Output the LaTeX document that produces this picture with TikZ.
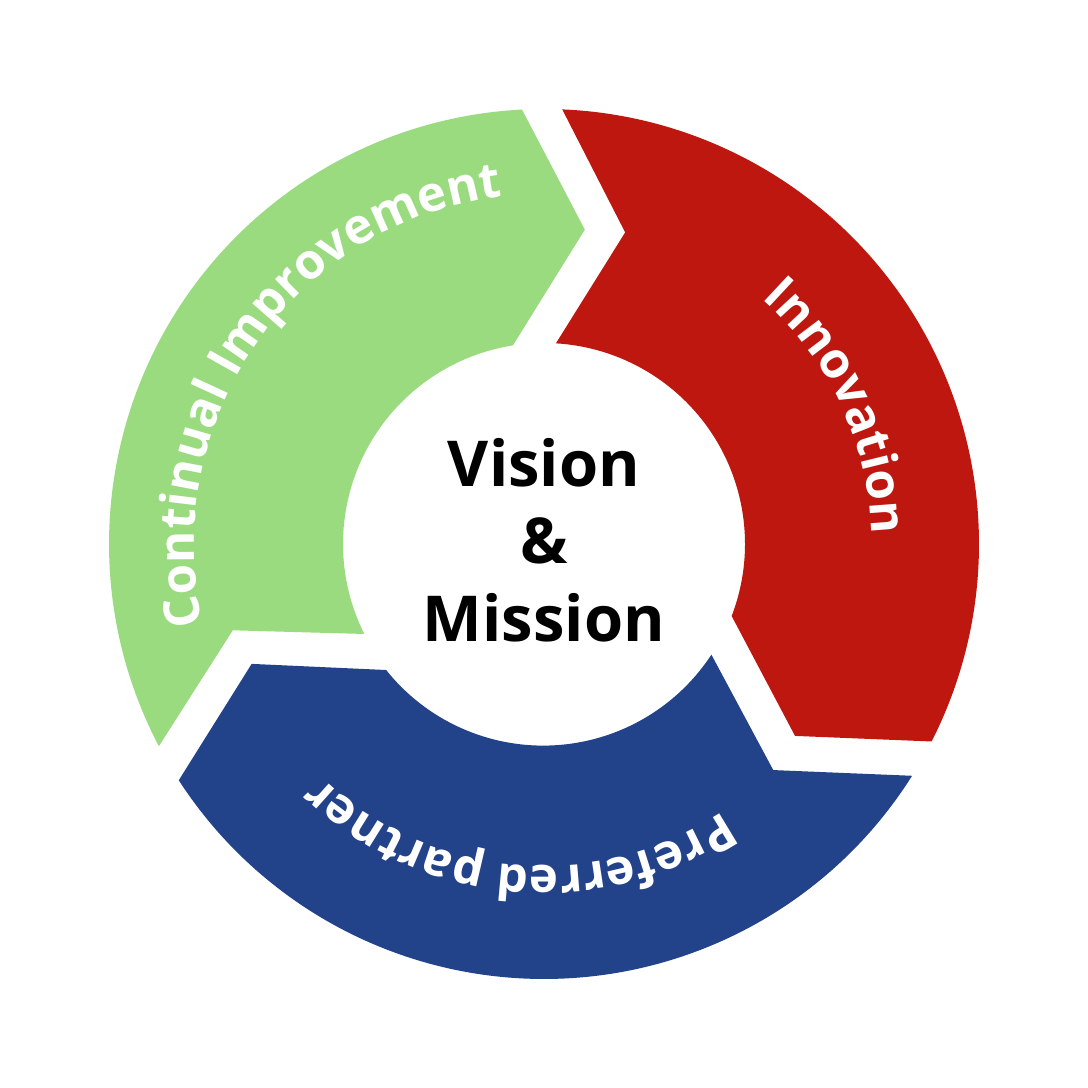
\documentclass[tikz,border=0pt]{standalone}
\usepackage{fontspec}
\setsansfont{Open Sans}
\usetikzlibrary{decorations.text}
\definecolor{ringgreen}{HTML}{9ADB7F}
\definecolor{ringred}{HTML}{BE1710}
\definecolor{ringblue}{HTML}{22428A}
\tikzset{
  segment/.style={draw=none},
  ringtext/.style={decorate, decoration={text along path, text align=center,
    text={|\sffamily\bfseries\fontsize{14}{14}\selectfont\color{white}|#1}}}
}
\begin{document}
\begin{tikzpicture}[x=0.01cm, y=0.01cm]
  \useasboundingbox (0,0) rectangle (1088,1088);
  \begin{scope}[shift={(544,544)}]
    % green segment
    \fill[segment, ringgreen] (-152.3:435) arc (-152.3:-267.1:435) -- (-277.4:317)
      -- (-261.1:201) arc (-261.1:-153.4:201) -- (-164.5:323) -- cycle;
    % red segment
    \fill[segment, ringred] (87.6:435) arc (87.6:-27:435) -- (-37.4:316)
      -- (-21:201) arc (-21:86.6:201) -- (75.4:322) -- cycle;
    % blue segment
    \fill[segment, ringblue] (-32.2:435) arc (-32.2:-147.1:435) -- (-157.7:316)
      -- (-141.4:202) arc (-141.4:-33.2:201) -- (-44.6:322) -- cycle;
    % labels
    \path[ringtext={Continual Improvement}] (205:350) arc (205:85:350);
    \path[ringtext={Innovation}] (60:328) arc (60:-10:328);
    \path[ringtext={Preferred partner}] (-40:322) arc (-40:-150:322);
    \node[font=\sffamily\bfseries\fontsize{18}{22}\selectfont, align=center] (vm) at (0,4)
      {Vision\\\&\\Mission};
  \end{scope}
\end{tikzpicture}
\end{document}
